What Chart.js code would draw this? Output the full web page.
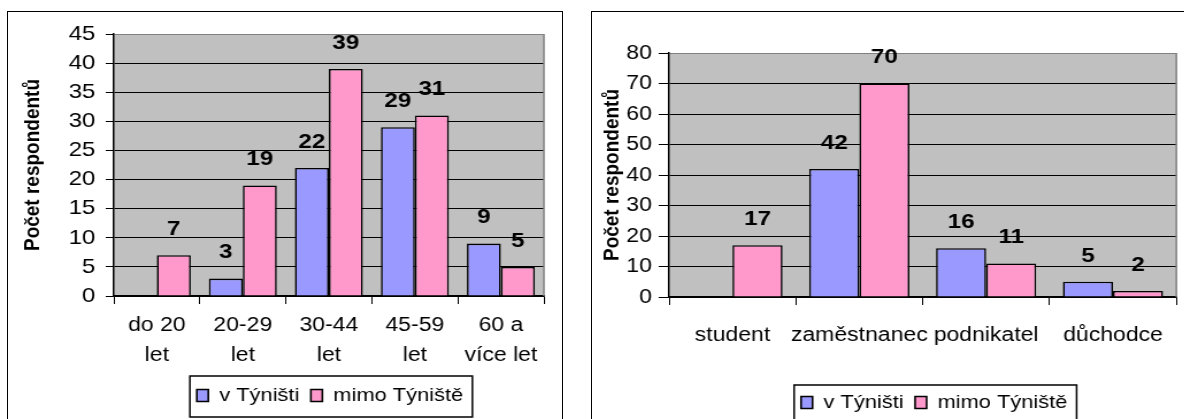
<!DOCTYPE html>
<html>
<head>
<meta charset="utf-8">
<script src="https://cdn.jsdelivr.net/npm/chart.js@4.4.0/dist/chart.umd.min.js"></script>
<style>
  body { margin: 0; background: #fff; width: 1184px; height: 419px; overflow: hidden; position: relative; }
  .wrap { position: absolute; top: 12px; transform: scaleX(1.15); transform-origin: 0 0; }
  .frame { position: absolute; border: 1.5px solid #000; pointer-events: none; }
</style>
</head>
<body>
<div class="wrap" style="left:8px"><canvas id="ageChart" width="482" height="420"></canvas></div>
<div class="wrap" style="left:592px"><canvas id="jobChart" width="515" height="420"></canvas></div>
<div class="frame" style="left:7px;top:11px;width:554px;height:440px"></div>
<div class="frame" style="left:591px;top:11px;width:640px;height:440px"></div>
<script>
// data
const seriesNames = ["v Týništi", "mimo Týniště"];
const ageLabels = [["do 20", "let"], ["20-29", "let"], ["30-44", "let"], ["45-59", "let"], ["60 a", "více let"]];
const ageInTown = [null, 3, 22, 29, 9];
const ageOutside = [7, 19, 39, 31, 5];
const ageMax = 45, ageStep = 5;

const jobLabels = ["student", "zaměstnanec", "podnikatel", "důchodce"];
const jobInTown = [null, 42, 16, 5];
const jobOutside = [17, 70, 11, 2];
const jobMax = 80, jobStep = 10;

const yTitle = "Počet respondentů";
const FONT = '"Liberation Sans", Arial, sans-serif';
Chart.defaults.font.family = FONT;
Chart.defaults.color = '#000';

const plotBg = {
    id: 'plotBg',
    beforeDraw(chart) {
        const a = chart.chartArea, ctx = chart.ctx;
        ctx.save();
        ctx.fillStyle = '#C0C0C0';
        ctx.fillRect(a.left, a.top, a.right - a.left, a.bottom - a.top);
        ctx.restore();
    },
    beforeDatasetsDraw(chart) {
        const a = chart.chartArea, ctx = chart.ctx;
        ctx.save();
        ctx.strokeStyle = '#808080';
        ctx.lineWidth = 1.5;
        ctx.beginPath();
        ctx.moveTo(a.right, a.top);
        ctx.lineTo(a.right, a.bottom);
        ctx.stroke();
        ctx.restore();
    }
};

const valueLabels = {
    id: 'valueLabels',
    afterDatasetsDraw(chart) {
        const ctx = chart.ctx;
        ctx.save();
        ctx.font = 'bold 21px ' + FONT;
        ctx.fillStyle = '#000';
        ctx.textAlign = 'center';
        ctx.textBaseline = 'middle';
        chart.data.datasets.forEach((ds, i) => {
            chart.getDatasetMeta(i).data.forEach((bar, j) => {
                if (ds.data[j] == null) return;
                ctx.fillText(ds.data[j], bar.x, bar.y - 26);
            });
        });
        ctx.restore();
    }
};

// legend box with frame, nudged sideways like in the original
const legendFrame = {
    id: 'legendFrame',
    afterLayout(chart) {
        const s = chart.options.legendShift || 0;
        chart.legend.left += s;
        chart.legend.right += s;
    },
    afterDraw(chart) {
        const lg = chart.legend, ctx = chart.ctx;
        const boxes = lg.legendHitBoxes;
        if (!boxes || !boxes.length) return;
        const l = Math.min(...boxes.map(b => b.left)) - 6;
        const r = Math.max(...boxes.map(b => b.left + b.width)) + 8;
        ctx.save();
        ctx.strokeStyle = '#000';
        ctx.lineWidth = 1.5;
        ctx.strokeRect(l, lg.top + chart.options.frameShift, r - l, 41);
        ctx.restore();
    }
};

function makeChart(id, labels, inTown, outside, max, step, o) {
    return new Chart(document.getElementById(id), {
        type: 'bar',
        data: {
            labels: labels,
            datasets: [
                { label: seriesNames[0], data: inTown, backgroundColor: '#9999FF', borderColor: '#000', borderWidth: 1.6 },
                { label: seriesNames[1], data: outside, backgroundColor: '#FF99CC', borderColor: '#000', borderWidth: 1.6 }
            ]
        },
        options: {
            responsive: false,
            animation: false,
            devicePixelRatio: 1,
            frameShift: o.frameShift,
            legendShift: o.legendShift,
            categoryPercentage: 0.79,
            barPercentage: 1.0,
            layout: { padding: o.padding },
            plugins: {
                legend: {
                    position: 'bottom',
                    fullSize: false,
                    labels: { boxWidth: 10, boxHeight: 12, padding: 10, color: '#000', font: { size: 19 } }
                },
                tooltip: { enabled: false }
            },
            scales: {
                x: {
                    grid: { display: true, drawOnChartArea: false, color: '#000', tickLength: 8, offset: true },
                    border: { color: '#000', width: 1.5 },
                    ticks: { color: '#000', padding: o.xPad, maxRotation: 0, autoSkip: false,
                             font: { size: 20, lineHeight: o.xLine } },
                    afterFit: s => { s.height = o.xHeight; }
                },
                y: {
                    min: 0, max: max,
                    grid: { color: c => (c.tick && c.tick.value === max) ? '#808080' : '#000',
                            tickColor: '#000', tickLength: o.tickLen, lineWidth: 1 },
                    border: { color: '#000', width: 1.5 },
                    ticks: { stepSize: step, color: '#000', padding: o.tickPad, font: { size: o.tickSize } },
                    title: { display: true, text: yTitle, color: '#000',
                             font: { size: 19, weight: 'bold' }, padding: { top: o.titlePad, bottom: 0 } },
                    afterFit: s => { s.width = o.yWidth; }
                }
            }
        },
        plugins: [plotBg, valueLabels, legendFrame]
    });
}

makeChart('ageChart', ageLabels, ageInTown, ageOutside, ageMax, ageStep, {
    padding: { top: 22, right: 16, bottom: 17, left: 0 },
    yWidth: 92, tickLen: 7, tickPad: 9, titlePad: 10, tickSize: 21,
    xHeight: 80, xPad: 6, xLine: 1.5, frameShift: 0, legendShift: 1
});

makeChart('jobChart', jobLabels, jobInTown, jobOutside, jobMax, jobStep, {
    padding: { top: 41, right: 5, bottom: 10, left: 0 },
    yWidth: 67, tickLen: 9, tickPad: 6, titlePad: 6, tickSize: 20,
    xHeight: 86, xPad: 18, xLine: 1.2, frameShift: 2, legendShift: 10
});
</script>
</body>
</html>
